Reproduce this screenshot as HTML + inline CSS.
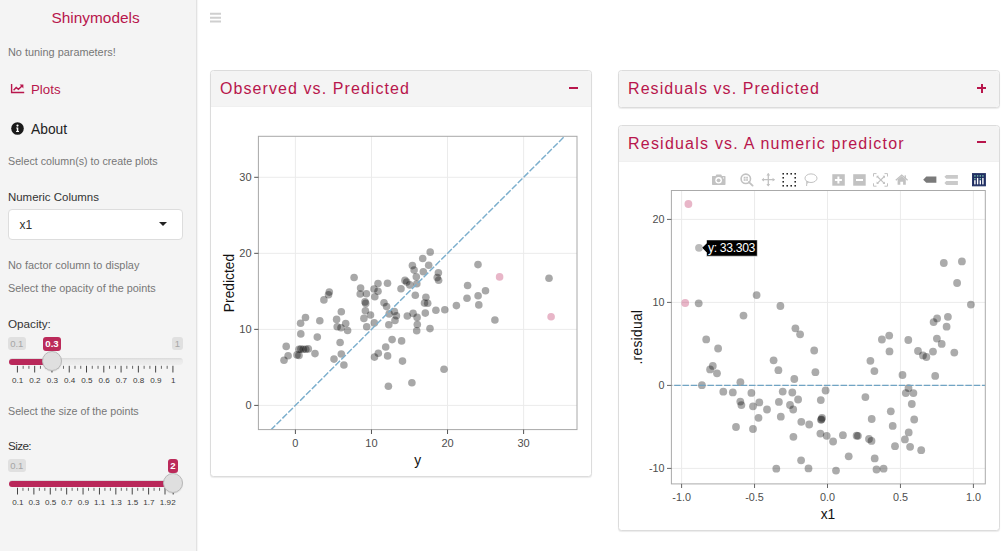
<!DOCTYPE html>
<html><head><meta charset="utf-8"><style>
*{margin:0;padding:0;box-sizing:border-box}
html,body{width:1008px;height:551px;overflow:hidden;background:#fff;font-family:"Liberation Sans",sans-serif;position:relative}
.t{position:absolute;line-height:1;white-space:nowrap}
#sb{position:absolute;left:0;top:0;width:197px;height:551px;background:#f4f4f4;border-right:1px solid #e2e2e2;box-shadow:1px 0 1px rgba(0,0,0,0.04)}
.card{position:absolute;border:1px solid #dcdcdc;border-radius:3.5px;background:#fff;box-shadow:0 1px 1px rgba(0,0,0,0.08)}
.ch{background:#f4f4f4;border-bottom:1px solid #f0f0f0;border-radius:4px 4px 0 0}
.tk1{font-size:11px;fill:#4d4d4d;font-family:'Liberation Sans'}
.tk2{font-size:10.8px;fill:#4d4d4d;font-family:'Liberation Sans'}
.ax{font-size:13.8px;fill:#111;font-family:'Liberation Sans'}
.irsl{position:absolute;height:13px;background:#e0e0e0;color:#a6a6a6;border-radius:3px;font-size:9.5px;line-height:13px;text-align:center}
.irsv{position:absolute;height:13.5px;background:#bb2a5a;color:#fff;border-radius:3px;font-size:9.6px;font-weight:bold;line-height:13.5px;text-align:center}
</style></head><body>
<div id="sb">
<div class="t" style="left:51.5px;top:10.46px;font-size:15.4px;color:#b8164c;">Shinymodels</div>
<div class="t" style="left:8px;top:47.07px;font-size:10.9px;color:#777;">No tuning parameters!</div>
<div class="t" style="left:31px;top:82.74px;font-size:13.3px;color:#b8164c;">Plots</div>
<div class="t" style="left:31px;top:123.32px;font-size:13.8px;color:#222;">About</div>
<div class="t" style="left:8px;top:156.04px;font-size:10.7px;color:#777;">Select column(s) to create plots</div>
<div class="t" style="left:8px;top:191.61px;font-size:11.45px;color:#333;">Numeric Columns</div>
<div style="position:absolute;left:8px;top:209.4px;width:174.5px;height:30.4px;border:1px solid #ddd;border-radius:4px;background:#fff"></div>
<div class="t" style="left:19.5px;top:218.84px;font-size:12px;color:#333;">x1</div>
<div style="position:absolute;left:158.7px;top:222px;width:0;height:0;border-left:4px solid transparent;border-right:4px solid transparent;border-top:4.5px solid #222"></div>
<div class="t" style="left:8px;top:259.67px;font-size:10.9px;color:#777;">No factor column to display</div>
<div class="t" style="left:8px;top:283.32px;font-size:10.85px;color:#777;">Select the opacity of the points</div>
<div class="t" style="left:8px;top:318.40px;font-size:11.7px;color:#333;">Opacity:</div>
<div class="t" style="left:8px;top:405.54px;font-size:10.7px;color:#777;">Select the size of the points</div>
<div class="t" style="left:8px;top:440.20px;font-size:11.7px;color:#333;letter-spacing:-0.6px">Size:</div>
<svg style="position:absolute;left:0;top:0" width="30" height="100" viewBox="0 0 30 100">
<path d="M11.6 84 V92.5 H24.2" fill="none" stroke="#b8164c" stroke-width="1.4"/>
<path d="M13.6 90.2 L16.2 87.4 L18.4 89.3 L22 85.9" fill="none" stroke="#b8164c" stroke-width="1.4"/>
<path d="M19.6 84.6 H23.4 V88.4 Z" fill="#b8164c"/>
</svg>
<svg style="position:absolute;left:10.7px;top:122.3px" width="13" height="13" viewBox="0 0 13 13">
<circle cx="6.5" cy="6.5" r="6.3" fill="#1a1a1a"/>
<circle cx="6.5" cy="3.6" r="1.1" fill="#fff"/>
<path d="M5.2 5.5 H7.3 V9 H8 V10 H5.1 V9 H5.8 V6.5 H5.2 Z" fill="#fff"/>
</svg>
<div class="irsl" style="left:8px;top:337px;width:17.5px">0.1</div>
<div class="irsl" style="left:172.3px;top:337px;width:10.4px">1</div>
<div style="position:absolute;left:8.5px;top:358.2px;width:174px;height:6.8px;border-radius:3.4px;background:linear-gradient(#d9d9d9,#e9e9e9 35%,#eeeeee)"></div>
<div style="position:absolute;left:8.5px;top:358.6px;width:43.8px;height:6px;border-radius:3px 0 0 3px;background:#b9285a"></div>
<svg style="position:absolute;left:0;top:0px" width="197" height="400" viewBox="0 0 197 400"><line x1="17.4" y1="365.8" x2="17.4" y2="372.5" stroke="#444" stroke-width="1"/><text x="17.7" y="383.4" font-size="8.1" fill="#3a3a3a" text-anchor="middle" font-family="Liberation Sans">0.1</text><line x1="23.16" y1="365.8" x2="23.16" y2="368.8" stroke="#666" stroke-width="1"/><line x1="28.92" y1="365.8" x2="28.92" y2="368.8" stroke="#666" stroke-width="1"/><line x1="34.68" y1="365.8" x2="34.68" y2="372.5" stroke="#444" stroke-width="1"/><text x="34.98" y="383.4" font-size="8.1" fill="#3a3a3a" text-anchor="middle" font-family="Liberation Sans">0.2</text><line x1="40.44" y1="365.8" x2="40.44" y2="368.8" stroke="#666" stroke-width="1"/><line x1="46.2" y1="365.8" x2="46.2" y2="368.8" stroke="#666" stroke-width="1"/><line x1="51.96" y1="365.8" x2="51.96" y2="372.5" stroke="#444" stroke-width="1"/><text x="52.26" y="383.4" font-size="8.1" fill="#3a3a3a" text-anchor="middle" font-family="Liberation Sans">0.3</text><line x1="57.72" y1="365.8" x2="57.72" y2="368.8" stroke="#666" stroke-width="1"/><line x1="63.480000000000004" y1="365.8" x2="63.480000000000004" y2="368.8" stroke="#666" stroke-width="1"/><line x1="69.24000000000001" y1="365.8" x2="69.24000000000001" y2="372.5" stroke="#444" stroke-width="1"/><text x="69.54" y="383.4" font-size="8.1" fill="#3a3a3a" text-anchor="middle" font-family="Liberation Sans">0.4</text><line x1="75.00000000000001" y1="365.8" x2="75.00000000000001" y2="368.8" stroke="#666" stroke-width="1"/><line x1="80.76" y1="365.8" x2="80.76" y2="368.8" stroke="#666" stroke-width="1"/><line x1="86.52000000000001" y1="365.8" x2="86.52000000000001" y2="372.5" stroke="#444" stroke-width="1"/><text x="86.82000000000001" y="383.4" font-size="8.1" fill="#3a3a3a" text-anchor="middle" font-family="Liberation Sans">0.5</text><line x1="92.28000000000002" y1="365.8" x2="92.28000000000002" y2="368.8" stroke="#666" stroke-width="1"/><line x1="98.04" y1="365.8" x2="98.04" y2="368.8" stroke="#666" stroke-width="1"/><line x1="103.80000000000001" y1="365.8" x2="103.80000000000001" y2="372.5" stroke="#444" stroke-width="1"/><text x="104.10000000000001" y="383.4" font-size="8.1" fill="#3a3a3a" text-anchor="middle" font-family="Liberation Sans">0.6</text><line x1="109.56000000000002" y1="365.8" x2="109.56000000000002" y2="368.8" stroke="#666" stroke-width="1"/><line x1="115.32000000000001" y1="365.8" x2="115.32000000000001" y2="368.8" stroke="#666" stroke-width="1"/><line x1="121.08000000000001" y1="365.8" x2="121.08000000000001" y2="372.5" stroke="#444" stroke-width="1"/><text x="121.38000000000001" y="383.4" font-size="8.1" fill="#3a3a3a" text-anchor="middle" font-family="Liberation Sans">0.7</text><line x1="126.84000000000002" y1="365.8" x2="126.84000000000002" y2="368.8" stroke="#666" stroke-width="1"/><line x1="132.60000000000002" y1="365.8" x2="132.60000000000002" y2="368.8" stroke="#666" stroke-width="1"/><line x1="138.36" y1="365.8" x2="138.36" y2="372.5" stroke="#444" stroke-width="1"/><text x="138.66000000000003" y="383.4" font-size="8.1" fill="#3a3a3a" text-anchor="middle" font-family="Liberation Sans">0.8</text><line x1="144.12" y1="365.8" x2="144.12" y2="368.8" stroke="#666" stroke-width="1"/><line x1="149.88000000000002" y1="365.8" x2="149.88000000000002" y2="368.8" stroke="#666" stroke-width="1"/><line x1="155.64000000000001" y1="365.8" x2="155.64000000000001" y2="372.5" stroke="#444" stroke-width="1"/><text x="155.94000000000003" y="383.4" font-size="8.1" fill="#3a3a3a" text-anchor="middle" font-family="Liberation Sans">0.9</text><line x1="161.4" y1="365.8" x2="161.4" y2="368.8" stroke="#666" stroke-width="1"/><line x1="167.16000000000003" y1="365.8" x2="167.16000000000003" y2="368.8" stroke="#666" stroke-width="1"/><line x1="172.92000000000002" y1="365.8" x2="172.92000000000002" y2="372.5" stroke="#444" stroke-width="1"/><text x="173.22000000000003" y="383.4" font-size="8.1" fill="#3a3a3a" text-anchor="middle" font-family="Liberation Sans">1</text></svg>
<div style="position:absolute;left:42.3px;top:351.3px;width:20px;height:20px;border-radius:50%;background:#dfdfdf;border:1px solid #b8b8b8;box-shadow:0 1px 1px rgba(0,0,0,0.08)"></div>
<div class="irsv" style="left:43px;top:337px;width:18px">0.3</div>
<div class="irsl" style="left:8px;top:459px;width:17.5px">0.1</div>
<div style="position:absolute;left:8.5px;top:480.2px;width:174px;height:6.8px;border-radius:3.4px;background:linear-gradient(#d9d9d9,#e9e9e9 35%,#eeeeee)"></div>
<div style="position:absolute;left:8.5px;top:480.6px;width:164.9px;height:6px;border-radius:3px 0 0 3px;background:#b9285a"></div>
<svg style="position:absolute;left:0;top:122px" width="197" height="400" viewBox="0 0 197 400"><line x1="17.5" y1="365.8" x2="17.5" y2="372.5" stroke="#444" stroke-width="1"/><text x="17.8" y="383.4" font-size="8.1" fill="#3a3a3a" text-anchor="middle" font-family="Liberation Sans">0.1</text><line x1="22.96315789473684" y1="365.8" x2="22.96315789473684" y2="368.8" stroke="#666" stroke-width="1"/><line x1="28.426315789473684" y1="365.8" x2="28.426315789473684" y2="368.8" stroke="#666" stroke-width="1"/><line x1="33.88947368421053" y1="365.8" x2="33.88947368421053" y2="372.5" stroke="#444" stroke-width="1"/><text x="34.189473684210526" y="383.4" font-size="8.1" fill="#3a3a3a" text-anchor="middle" font-family="Liberation Sans">0.3</text><line x1="39.35263157894737" y1="365.8" x2="39.35263157894737" y2="368.8" stroke="#666" stroke-width="1"/><line x1="44.81578947368421" y1="365.8" x2="44.81578947368421" y2="368.8" stroke="#666" stroke-width="1"/><line x1="50.27894736842105" y1="365.8" x2="50.27894736842105" y2="372.5" stroke="#444" stroke-width="1"/><text x="50.57894736842105" y="383.4" font-size="8.1" fill="#3a3a3a" text-anchor="middle" font-family="Liberation Sans">0.5</text><line x1="55.74210526315789" y1="365.8" x2="55.74210526315789" y2="368.8" stroke="#666" stroke-width="1"/><line x1="61.205263157894734" y1="365.8" x2="61.205263157894734" y2="368.8" stroke="#666" stroke-width="1"/><line x1="66.66842105263157" y1="365.8" x2="66.66842105263157" y2="372.5" stroke="#444" stroke-width="1"/><text x="66.96842105263157" y="383.4" font-size="8.1" fill="#3a3a3a" text-anchor="middle" font-family="Liberation Sans">0.7</text><line x1="72.13157894736841" y1="365.8" x2="72.13157894736841" y2="368.8" stroke="#666" stroke-width="1"/><line x1="77.59473684210526" y1="365.8" x2="77.59473684210526" y2="368.8" stroke="#666" stroke-width="1"/><line x1="83.0578947368421" y1="365.8" x2="83.0578947368421" y2="372.5" stroke="#444" stroke-width="1"/><text x="83.3578947368421" y="383.4" font-size="8.1" fill="#3a3a3a" text-anchor="middle" font-family="Liberation Sans">0.9</text><line x1="88.52105263157894" y1="365.8" x2="88.52105263157894" y2="368.8" stroke="#666" stroke-width="1"/><line x1="93.98421052631579" y1="365.8" x2="93.98421052631579" y2="368.8" stroke="#666" stroke-width="1"/><line x1="99.44736842105263" y1="365.8" x2="99.44736842105263" y2="372.5" stroke="#444" stroke-width="1"/><text x="99.74736842105263" y="383.4" font-size="8.1" fill="#3a3a3a" text-anchor="middle" font-family="Liberation Sans">1.1</text><line x1="104.91052631578947" y1="365.8" x2="104.91052631578947" y2="368.8" stroke="#666" stroke-width="1"/><line x1="110.37368421052632" y1="365.8" x2="110.37368421052632" y2="368.8" stroke="#666" stroke-width="1"/><line x1="115.83684210526316" y1="365.8" x2="115.83684210526316" y2="372.5" stroke="#444" stroke-width="1"/><text x="116.13684210526316" y="383.4" font-size="8.1" fill="#3a3a3a" text-anchor="middle" font-family="Liberation Sans">1.3</text><line x1="121.3" y1="365.8" x2="121.3" y2="368.8" stroke="#666" stroke-width="1"/><line x1="126.76315789473685" y1="365.8" x2="126.76315789473685" y2="368.8" stroke="#666" stroke-width="1"/><line x1="132.2263157894737" y1="365.8" x2="132.2263157894737" y2="372.5" stroke="#444" stroke-width="1"/><text x="132.5263157894737" y="383.4" font-size="8.1" fill="#3a3a3a" text-anchor="middle" font-family="Liberation Sans">1.5</text><line x1="137.68947368421053" y1="365.8" x2="137.68947368421053" y2="368.8" stroke="#666" stroke-width="1"/><line x1="143.15263157894736" y1="365.8" x2="143.15263157894736" y2="368.8" stroke="#666" stroke-width="1"/><line x1="148.6157894736842" y1="365.8" x2="148.6157894736842" y2="372.5" stroke="#444" stroke-width="1"/><text x="148.9157894736842" y="383.4" font-size="8.1" fill="#3a3a3a" text-anchor="middle" font-family="Liberation Sans">1.7</text><line x1="154.07894736842104" y1="365.8" x2="154.07894736842104" y2="368.8" stroke="#666" stroke-width="1"/><line x1="159.54210526315788" y1="365.8" x2="159.54210526315788" y2="368.8" stroke="#666" stroke-width="1"/><line x1="165.00526315789472" y1="365.8" x2="165.00526315789472" y2="372.5" stroke="#444" stroke-width="1"/><text x="165.30526315789473" y="383.4" font-size="8.1" fill="#3a3a3a" text-anchor="middle" font-family="Liberation Sans">1.9</text><line x1="173.2" y1="365.8" x2="173.2" y2="372.5" stroke="#444" stroke-width="1"/><text x="173.5" y="383.4" font-size="8.1" fill="#3a3a3a" text-anchor="middle" font-family="Liberation Sans">2</text></svg>
<div style="position:absolute;left:163.4px;top:473.3px;width:20px;height:20px;border-radius:50%;background:#dfdfdf;border:1px solid #b8b8b8;box-shadow:0 1px 1px rgba(0,0,0,0.08)"></div>
<div class="irsv" style="left:168px;top:459px;width:9.800000000000011px">2</div>
</div>
<svg style="position:absolute;left:0;top:0" width="240" height="30"><path d="M210 13.8 H221 M210 17.7 H221 M210 21.5 H221" stroke="#cfcfcf" stroke-width="1.9"/></svg>
<div class="card" style="left:210px;top:70px;width:382px;height:407px"><div class="ch" style="height:36px;"></div></div><div class="t" style="left:220px;top:80.76px;font-size:16px;color:#b8164c;letter-spacing:1.08px">Observed vs. Predicted</div>
<div class="card" style="left:618px;top:70px;width:382px;height:37.5px"><div class="ch" style="height:36px;border-bottom:none;border-radius:4px"></div></div><div class="t" style="left:628px;top:80.76px;font-size:16px;color:#b8164c;letter-spacing:1.08px">Residuals vs. Predicted</div>
<div class="card" style="left:618px;top:125px;width:382px;height:406px"><div class="ch" style="height:36px;"></div></div><div class="t" style="left:628px;top:135.76px;font-size:16px;color:#b8164c;letter-spacing:1.22px">Residuals vs. A numeric predictor</div>
<div style="position:absolute;left:569px;top:87px;width:9px;height:2px;background:#b8164c"></div>
<div style="position:absolute;left:977px;top:87px;width:9px;height:2px;background:#b8164c"></div>
<div style="position:absolute;left:980.5px;top:83.5px;width:2px;height:9px;background:#b8164c"></div>
<div style="position:absolute;left:977px;top:141px;width:9px;height:2px;background:#b8164c"></div>
<svg id="plots" style="position:absolute;left:0;top:0" width="1008" height="551" viewBox="0 0 1008 551"><defs><clipPath id="c1"><rect x="258.4" y="136.3" width="318.6" height="293.3"/></clipPath><clipPath id="c2"><rect x="671.4" y="190.5" width="313.9" height="293.4"/></clipPath></defs><line x1="295.40" y1="136.3" x2="295.40" y2="429.6" stroke="#ebebeb" stroke-width="1"/><line x1="258.4" y1="405.40" x2="577.0" y2="405.40" stroke="#ebebeb" stroke-width="1"/><line x1="371.47" y1="136.3" x2="371.47" y2="429.6" stroke="#ebebeb" stroke-width="1"/><line x1="258.4" y1="329.37" x2="577.0" y2="329.37" stroke="#ebebeb" stroke-width="1"/><line x1="447.54" y1="136.3" x2="447.54" y2="429.6" stroke="#ebebeb" stroke-width="1"/><line x1="258.4" y1="253.34" x2="577.0" y2="253.34" stroke="#ebebeb" stroke-width="1"/><line x1="523.61" y1="136.3" x2="523.61" y2="429.6" stroke="#ebebeb" stroke-width="1"/><line x1="258.4" y1="177.31" x2="577.0" y2="177.31" stroke="#ebebeb" stroke-width="1"/><g fill="#000" fill-opacity="0.34"><circle cx="341.3" cy="311.7" r="3.8"/><circle cx="305.5" cy="317.5" r="3.8"/><circle cx="300.6" cy="323.2" r="3.8"/><circle cx="319.8" cy="320.7" r="3.8"/><circle cx="336.6" cy="319.4" r="3.8"/><circle cx="337.2" cy="326.7" r="3.8"/><circle cx="341.0" cy="327.7" r="3.8"/><circle cx="300.8" cy="333.9" r="3.8"/><circle cx="317.3" cy="337.1" r="3.8"/><circle cx="340.1" cy="342.5" r="3.8"/><circle cx="286.2" cy="346.4" r="3.8"/><circle cx="299.0" cy="349.3" r="3.8"/><circle cx="300.9" cy="349.1" r="3.8"/><circle cx="303.3" cy="349.3" r="3.8"/><circle cx="305.8" cy="349.3" r="3.8"/><circle cx="308.3" cy="348.9" r="3.8"/><circle cx="297.0" cy="354.9" r="3.8"/><circle cx="299.0" cy="355.4" r="3.8"/><circle cx="315.0" cy="353.6" r="3.8"/><circle cx="288.1" cy="355.7" r="3.8"/><circle cx="284.0" cy="360.2" r="3.8"/><circle cx="334.0" cy="359.1" r="3.8"/><circle cx="341.3" cy="354.0" r="3.8"/><circle cx="343.9" cy="365.0" r="3.8"/><circle cx="329.3" cy="292.1" r="3.8"/><circle cx="328.5" cy="294.8" r="3.8"/><circle cx="323.9" cy="299.9" r="3.8"/><circle cx="354.1" cy="277.5" r="3.8"/><circle cx="360.6" cy="288.1" r="3.8"/><circle cx="360.2" cy="294.0" r="3.8"/><circle cx="366.4" cy="293.7" r="3.8"/><circle cx="365.0" cy="301.9" r="3.8"/><circle cx="365.7" cy="303.4" r="3.8"/><circle cx="378.0" cy="283.5" r="3.8"/><circle cx="374.0" cy="289.0" r="3.8"/><circle cx="378.0" cy="291.2" r="3.8"/><circle cx="374.8" cy="296.8" r="3.8"/><circle cx="387.5" cy="283.2" r="3.8"/><circle cx="384.0" cy="302.7" r="3.8"/><circle cx="386.6" cy="306.6" r="3.8"/><circle cx="401.0" cy="288.7" r="3.8"/><circle cx="405.0" cy="280.4" r="3.8"/><circle cx="406.7" cy="282.0" r="3.8"/><circle cx="409.8" cy="284.9" r="3.8"/><circle cx="412.4" cy="265.6" r="3.8"/><circle cx="414.1" cy="270.1" r="3.8"/><circle cx="416.3" cy="276.7" r="3.8"/><circle cx="416.8" cy="283.8" r="3.8"/><circle cx="415.3" cy="295.2" r="3.8"/><circle cx="345.7" cy="323.5" r="3.8"/><circle cx="347.6" cy="330.5" r="3.8"/><circle cx="365.4" cy="310.8" r="3.8"/><circle cx="370.5" cy="315.0" r="3.8"/><circle cx="363.9" cy="318.4" r="3.8"/><circle cx="366.7" cy="326.7" r="3.8"/><circle cx="374.3" cy="322.9" r="3.8"/><circle cx="389.2" cy="313.9" r="3.8"/><circle cx="394.4" cy="311.5" r="3.8"/><circle cx="396.4" cy="315.8" r="3.8"/><circle cx="395.0" cy="320.4" r="3.8"/><circle cx="388.8" cy="324.8" r="3.8"/><circle cx="407.3" cy="316.0" r="3.8"/><circle cx="413.1" cy="313.4" r="3.8"/><circle cx="417.1" cy="317.4" r="3.8"/><circle cx="417.3" cy="324.5" r="3.8"/><circle cx="416.7" cy="330.8" r="3.8"/><circle cx="392.1" cy="339.6" r="3.8"/><circle cx="401.6" cy="340.9" r="3.8"/><circle cx="385.7" cy="347.0" r="3.8"/><circle cx="378.3" cy="353.3" r="3.8"/><circle cx="374.5" cy="357.1" r="3.8"/><circle cx="387.6" cy="355.9" r="3.8"/><circle cx="402.5" cy="361.1" r="3.8"/><circle cx="430.2" cy="252.1" r="3.8"/><circle cx="422.7" cy="258.5" r="3.8"/><circle cx="428.7" cy="265.2" r="3.8"/><circle cx="423.3" cy="271.7" r="3.8"/><circle cx="438.4" cy="272.8" r="3.8"/><circle cx="437.2" cy="277.6" r="3.8"/><circle cx="438.6" cy="280.3" r="3.8"/><circle cx="425.9" cy="297.3" r="3.8"/><circle cx="424.5" cy="303.1" r="3.8"/><circle cx="427.7" cy="303.3" r="3.8"/><circle cx="478.0" cy="264.6" r="3.8"/><circle cx="467.6" cy="285.5" r="3.8"/><circle cx="485.5" cy="290.8" r="3.8"/><circle cx="478.1" cy="295.7" r="3.8"/><circle cx="467.0" cy="298.2" r="3.8"/><circle cx="478.8" cy="304.9" r="3.8"/><circle cx="456.4" cy="305.6" r="3.8"/><circle cx="425.3" cy="313.1" r="3.8"/><circle cx="435.9" cy="310.2" r="3.8"/><circle cx="444.8" cy="309.8" r="3.8"/><circle cx="430.0" cy="328.6" r="3.8"/><circle cx="444.0" cy="369.2" r="3.8"/><circle cx="388.4" cy="386.2" r="3.8"/><circle cx="411.9" cy="382.7" r="3.8"/><circle cx="494.9" cy="320.0" r="3.8"/><circle cx="549.0" cy="278.3" r="3.8"/></g><g fill="#b40c48" fill-opacity="0.3"><circle cx="499.6" cy="276.9" r="3.8"/><circle cx="551.1" cy="316.7" r="3.8"/></g><line x1="271.21" y1="429.58" x2="564.69" y2="136.25" stroke="#7cafcd" stroke-width="1.45" stroke-dasharray="6.5 1.82" stroke-dashoffset="0.78" clip-path="url(#c1)"/><rect x="258.4" y="136.3" width="318.6" height="293.3" fill="none" stroke="#a8a8a8" stroke-width="1"/><line x1="254.2" y1="405.40" x2="258.4" y2="405.40" stroke="#555" stroke-width="1"/><line x1="295.40" y1="429.6" x2="295.40" y2="434" stroke="#555" stroke-width="1"/><text x="251.6" y="409.30" text-anchor="end" class="tk1">0</text><text x="295.40" y="447" text-anchor="middle" class="tk1">0</text><line x1="254.2" y1="329.37" x2="258.4" y2="329.37" stroke="#555" stroke-width="1"/><line x1="371.47" y1="429.6" x2="371.47" y2="434" stroke="#555" stroke-width="1"/><text x="251.6" y="333.27" text-anchor="end" class="tk1">10</text><text x="371.47" y="447" text-anchor="middle" class="tk1">10</text><line x1="254.2" y1="253.34" x2="258.4" y2="253.34" stroke="#555" stroke-width="1"/><line x1="447.54" y1="429.6" x2="447.54" y2="434" stroke="#555" stroke-width="1"/><text x="251.6" y="257.24" text-anchor="end" class="tk1">20</text><text x="447.54" y="447" text-anchor="middle" class="tk1">20</text><line x1="254.2" y1="177.31" x2="258.4" y2="177.31" stroke="#555" stroke-width="1"/><line x1="523.61" y1="429.6" x2="523.61" y2="434" stroke="#555" stroke-width="1"/><text x="251.6" y="181.21" text-anchor="end" class="tk1">30</text><text x="523.61" y="447" text-anchor="middle" class="tk1">30</text><text x="417.8" y="464.8" text-anchor="middle" class="ax">y</text><text transform="translate(233.7,283) rotate(-90)" text-anchor="middle" class="ax">Predicted</text><line x1="681.60" y1="190.5" x2="681.60" y2="483.9" stroke="#ebebeb" stroke-width="1"/><line x1="754.55" y1="190.5" x2="754.55" y2="483.9" stroke="#ebebeb" stroke-width="1"/><line x1="827.50" y1="190.5" x2="827.50" y2="483.9" stroke="#ebebeb" stroke-width="1"/><line x1="900.45" y1="190.5" x2="900.45" y2="483.9" stroke="#ebebeb" stroke-width="1"/><line x1="973.40" y1="190.5" x2="973.40" y2="483.9" stroke="#ebebeb" stroke-width="1"/><line x1="671.4" y1="468.40" x2="985.3" y2="468.40" stroke="#ebebeb" stroke-width="1"/><line x1="671.4" y1="385.40" x2="985.3" y2="385.40" stroke="#ebebeb" stroke-width="1"/><line x1="671.4" y1="302.40" x2="985.3" y2="302.40" stroke="#ebebeb" stroke-width="1"/><line x1="671.4" y1="219.40" x2="985.3" y2="219.40" stroke="#ebebeb" stroke-width="1"/><g fill="#000" fill-opacity="0.33"><circle cx="943.8" cy="263.0" r="3.9"/><circle cx="961.9" cy="261.4" r="3.9"/><circle cx="698.7" cy="303.3" r="3.9"/><circle cx="756.6" cy="295.1" r="3.9"/><circle cx="780.4" cy="306.0" r="3.9"/><circle cx="743.5" cy="315.6" r="3.9"/><circle cx="795.4" cy="328.3" r="3.9"/><circle cx="800.1" cy="334.3" r="3.9"/><circle cx="706.2" cy="339.4" r="3.9"/><circle cx="718.1" cy="348.5" r="3.9"/><circle cx="814.2" cy="350.5" r="3.9"/><circle cx="957.1" cy="283.0" r="3.9"/><circle cx="970.9" cy="304.6" r="3.9"/><circle cx="937.1" cy="318.4" r="3.9"/><circle cx="933.6" cy="322.1" r="3.9"/><circle cx="947.9" cy="316.8" r="3.9"/><circle cx="946.6" cy="326.7" r="3.9"/><circle cx="889.2" cy="335.6" r="3.9"/><circle cx="881.9" cy="339.5" r="3.9"/><circle cx="908.3" cy="340.0" r="3.9"/><circle cx="936.9" cy="338.6" r="3.9"/><circle cx="941.7" cy="343.9" r="3.9"/><circle cx="889.5" cy="351.4" r="3.9"/><circle cx="918.0" cy="351.0" r="3.9"/><circle cx="933.0" cy="351.6" r="3.9"/><circle cx="954.3" cy="352.6" r="3.9"/><circle cx="923.0" cy="355.4" r="3.9"/><circle cx="926.4" cy="357.0" r="3.9"/><circle cx="773.6" cy="360.3" r="3.9"/><circle cx="778.4" cy="370.2" r="3.9"/><circle cx="712.8" cy="365.9" r="3.9"/><circle cx="710.1" cy="369.4" r="3.9"/><circle cx="717.0" cy="373.3" r="3.9"/><circle cx="815.4" cy="372.2" r="3.9"/><circle cx="794.3" cy="379.0" r="3.9"/><circle cx="740.4" cy="382.2" r="3.9"/><circle cx="701.9" cy="385.2" r="3.9"/><circle cx="723.3" cy="391.7" r="3.9"/><circle cx="732.8" cy="392.4" r="3.9"/><circle cx="751.4" cy="392.9" r="3.9"/><circle cx="782.7" cy="391.6" r="3.9"/><circle cx="792.3" cy="392.5" r="3.9"/><circle cx="825.6" cy="390.5" r="3.9"/><circle cx="740.3" cy="401.6" r="3.9"/><circle cx="741.4" cy="405.1" r="3.9"/><circle cx="759.3" cy="402.4" r="3.9"/><circle cx="753.0" cy="406.3" r="3.9"/><circle cx="767.0" cy="409.5" r="3.9"/><circle cx="778.9" cy="401.9" r="3.9"/><circle cx="798.1" cy="399.5" r="3.9"/><circle cx="790.0" cy="405.0" r="3.9"/><circle cx="793.2" cy="409.5" r="3.9"/><circle cx="820.8" cy="400.1" r="3.9"/><circle cx="758.5" cy="417.8" r="3.9"/><circle cx="780.8" cy="416.7" r="3.9"/><circle cx="801.3" cy="421.8" r="3.9"/><circle cx="809.2" cy="424.5" r="3.9"/><circle cx="821.0" cy="419.8" r="3.9"/><circle cx="821.5" cy="419.3" r="3.9"/><circle cx="822.0" cy="417.8" r="3.9"/><circle cx="736.0" cy="427.0" r="3.9"/><circle cx="753.0" cy="429.0" r="3.9"/><circle cx="820.4" cy="433.6" r="3.9"/><circle cx="826.7" cy="435.8" r="3.9"/><circle cx="833.1" cy="441.5" r="3.9"/><circle cx="793.4" cy="436.8" r="3.9"/><circle cx="801.1" cy="460.3" r="3.9"/><circle cx="776.3" cy="468.7" r="3.9"/><circle cx="808.5" cy="468.4" r="3.9"/><circle cx="836.0" cy="470.6" r="3.9"/><circle cx="870.4" cy="360.8" r="3.9"/><circle cx="874.4" cy="371.1" r="3.9"/><circle cx="902.5" cy="375.0" r="3.9"/><circle cx="935.2" cy="375.9" r="3.9"/><circle cx="908.5" cy="388.1" r="3.9"/><circle cx="905.8" cy="393.1" r="3.9"/><circle cx="913.4" cy="393.1" r="3.9"/><circle cx="865.4" cy="397.1" r="3.9"/><circle cx="911.8" cy="404.0" r="3.9"/><circle cx="890.8" cy="411.3" r="3.9"/><circle cx="871.7" cy="419.0" r="3.9"/><circle cx="914.2" cy="419.5" r="3.9"/><circle cx="892.7" cy="425.9" r="3.9"/><circle cx="908.7" cy="432.4" r="3.9"/><circle cx="842.9" cy="435.2" r="3.9"/><circle cx="856.6" cy="435.7" r="3.9"/><circle cx="857.9" cy="435.8" r="3.9"/><circle cx="869.0" cy="439.0" r="3.9"/><circle cx="871.5" cy="440.9" r="3.9"/><circle cx="904.9" cy="439.4" r="3.9"/><circle cx="895.0" cy="446.2" r="3.9"/><circle cx="910.1" cy="446.8" r="3.9"/><circle cx="921.2" cy="450.2" r="3.9"/><circle cx="848.7" cy="456.3" r="3.9"/><circle cx="874.7" cy="458.4" r="3.9"/><circle cx="876.5" cy="469.5" r="3.9"/><circle cx="883.6" cy="468.7" r="3.9"/><circle cx="699.0" cy="247.8" r="3.9" fill-opacity="0.27"/></g><g fill="#b40c48" fill-opacity="0.3"><circle cx="688.4" cy="204.0" r="3.9"/><circle cx="685.2" cy="303.0" r="3.9"/></g><line x1="671.4" y1="385.4" x2="985.3" y2="385.4" stroke="#70a4c4" stroke-width="1.4" stroke-dasharray="6.5 1.82" stroke-dashoffset="5.57" clip-path="url(#c2)"/><rect x="671.4" y="190.5" width="313.9" height="293.4" fill="none" stroke="#aaa" stroke-width="1"/><line x1="667" y1="468.40" x2="671.4" y2="468.40" stroke="#666" stroke-width="1"/><text x="664.6" y="472.20" text-anchor="end" class="tk2">-10</text><line x1="667" y1="385.40" x2="671.4" y2="385.40" stroke="#666" stroke-width="1"/><text x="664.6" y="389.20" text-anchor="end" class="tk2">0</text><line x1="667" y1="302.40" x2="671.4" y2="302.40" stroke="#666" stroke-width="1"/><text x="664.6" y="306.20" text-anchor="end" class="tk2">10</text><line x1="667" y1="219.40" x2="671.4" y2="219.40" stroke="#666" stroke-width="1"/><text x="664.6" y="223.20" text-anchor="end" class="tk2">20</text><line x1="681.60" y1="483.9" x2="681.60" y2="488" stroke="#666" stroke-width="1"/><text x="681.60" y="500.6" text-anchor="middle" class="tk2">-1.0</text><line x1="754.55" y1="483.9" x2="754.55" y2="488" stroke="#666" stroke-width="1"/><text x="754.55" y="500.6" text-anchor="middle" class="tk2">-0.5</text><line x1="827.50" y1="483.9" x2="827.50" y2="488" stroke="#666" stroke-width="1"/><text x="827.50" y="500.6" text-anchor="middle" class="tk2">0.0</text><line x1="900.45" y1="483.9" x2="900.45" y2="488" stroke="#666" stroke-width="1"/><text x="900.45" y="500.6" text-anchor="middle" class="tk2">0.5</text><line x1="973.40" y1="483.9" x2="973.40" y2="488" stroke="#666" stroke-width="1"/><text x="973.40" y="500.6" text-anchor="middle" class="tk2">1.0</text><text x="828" y="519.2" text-anchor="middle" class="ax">x1</text><text transform="translate(641.6,337.2) rotate(-90)" text-anchor="middle" class="ax" letter-spacing="0.3">.residual</text><path d="M701.9 247.8 L706.5 243.2 L706.5 239.9 L757.3 239.9 L757.3 256.2 L706.5 256.2 L706.5 252.4 Z" fill="#000" stroke="#fff" stroke-width="0.6"/><text x="708" y="252.4" font-size="12.2" letter-spacing="-0.35" fill="#fff" font-family="Liberation Sans">y: 33.303</text><path d="M712 176.6 Q712 175.9 712.7 175.9 H715.6 L716.4 174.4 H721.2 L722 175.9 H724.8 Q725.5 175.9 725.5 176.6 V184.3 Q725.5 185 724.8 185 H712.7 Q712 185 712 184.3 Z" fill="#c2c2c2"/><circle cx="718.6" cy="180.3" r="3.3" fill="#fff"/><circle cx="718.6" cy="180.3" r="1.9" fill="#c2c2c2"/><circle cx="723.6" cy="177.9" r="0.6" fill="#fff"/><circle cx="745.8" cy="178.8" r="4.7" fill="none" stroke="#c2c2c2" stroke-width="1.6"/><path d="M748.9 182.1 L752.6 185.6" stroke="#c2c2c2" stroke-width="1.9" stroke-linecap="round"/><rect x="743.7" y="176.8" width="4.2" height="4" fill="#c2c2c2"/><path d="M743.7 178.8 H747.9 M745.8 176.8 V180.8" stroke="#fff" stroke-width="0.6"/><path d="M768.3 173.6 V185.8 M762.2 179.7 H774.4" stroke="#c2c2c2" stroke-width="1.3"/><path d="M768.3 173 L766.4 175.4 H770.2 Z M768.3 186.4 L766.4 184 H770.2 Z M761.6 179.7 L764 177.8 V181.6 Z M775 179.7 L772.6 177.8 V181.6 Z" fill="#c2c2c2"/><rect x="782.45" y="173.05" width="1.5" height="1.5" fill="#111"/><rect x="782.45" y="185.05" width="1.5" height="1.5" fill="#111"/><rect x="786.45" y="173.05" width="1.5" height="1.5" fill="#111"/><rect x="786.45" y="185.05" width="1.5" height="1.5" fill="#111"/><rect x="790.45" y="173.05" width="1.5" height="1.5" fill="#111"/><rect x="790.45" y="185.05" width="1.5" height="1.5" fill="#111"/><rect x="794.45" y="173.05" width="1.5" height="1.5" fill="#111"/><rect x="794.45" y="185.05" width="1.5" height="1.5" fill="#111"/><rect x="782.45" y="177.05" width="1.5" height="1.5" fill="#111"/><rect x="794.45" y="177.05" width="1.5" height="1.5" fill="#111"/><rect x="782.45" y="181.05" width="1.5" height="1.5" fill="#111"/><rect x="794.45" y="181.05" width="1.5" height="1.5" fill="#111"/><ellipse cx="811" cy="178.2" rx="6" ry="4.3" fill="none" stroke="#c2c2c2" stroke-width="1"/><path d="M806.8 181 Q806 183 807.6 183 Q809 182.6 807.8 181.6 Q806.3 182.3 806.6 186" fill="none" stroke="#c2c2c2" stroke-width="1"/><rect x="832.3" y="174.2" width="12.5" height="11.5" fill="#c2c2c2"/><path d="M834.9 179.9 H841.9 M838.4 176.4 V183.4" stroke="#fff" stroke-width="2"/><rect x="853.2" y="174.2" width="12.5" height="11.5" fill="#c2c2c2"/><path d="M856 180 H863" stroke="#fff" stroke-width="2"/><path d="M873.5 176.5 V173.6 H876.5 M884.5 173.6 H887.5 V176.5 M887.5 183.3 V186.2 H884.5 M876.5 186.2 H873.5 V183.3" fill="none" stroke="#c2c2c2" stroke-width="1"/><path d="M877.3 176.5 L884.3 183.3 M884.3 176.5 L877.3 183.3" stroke="#c2c2c2" stroke-width="1.1"/><path d="M876.6 175.8 h2.4 l-2.4 2.4z M885 175.8 h-2.4 l2.4 2.4z M876.6 184 h2.4 l-2.4 -2.4z M885 184 h-2.4 l2.4 -2.4z" fill="#c2c2c2"/><path d="M895.8 180.3 L901.7 175 L907.6 180.3" fill="none" stroke="#c2c2c2" stroke-width="1.3"/><path d="M897.6 179.6 L901.7 176 L905.8 179.6 V184.7 H903.1 V181.8 H900.3 V184.7 H897.6 Z" fill="#c2c2c2"/><rect x="904.6" y="175.3" width="1.3" height="3" fill="#c2c2c2"/><path d="M923.2 179.7 L926.3 176.6 H936.4 V182.8 H926.3 Z" fill="#7a7a7a"/><path d="M944.4 176.8 L946.3 174.9 H957.9 V178.7 H946.3 Z M944.4 183 L946.3 181.1 H957.9 V184.9 H946.3 Z" fill="#cacaca"/><rect x="972" y="173.1" width="13.9" height="13.2" fill="#1c2a5e"/><rect x="972.8" y="173.9" width="12.3" height="11.6" fill="none" stroke="#3d4a7a" stroke-width="0.5"/><rect x="974.1999999999999" y="175.2" width="1.4" height="1.4" fill="#7cc4b0"/><rect x="974.1999999999999" y="178" width="1.4" height="1.4" fill="#7cc4b0"/><rect x="974.1999999999999" y="180.2" width="1.4" height="4.2" fill="#fff"/><rect x="976.9" y="175.2" width="1.4" height="1.4" fill="#7cc4b0"/><rect x="976.9" y="177.9" width="1.4" height="6.5" fill="#fff"/><rect x="979.5999999999999" y="175.2" width="1.4" height="1.4" fill="#7cc4b0"/><rect x="979.5999999999999" y="178" width="1.4" height="1.4" fill="#7cc4b0"/><rect x="979.5999999999999" y="180.2" width="1.4" height="4.2" fill="#fff"/><rect x="982.1999999999999" y="175.2" width="1.4" height="1.4" fill="#7cc4b0"/><rect x="982.1999999999999" y="177.9" width="1.4" height="6.5" fill="#fff"/></svg>
</body></html>
